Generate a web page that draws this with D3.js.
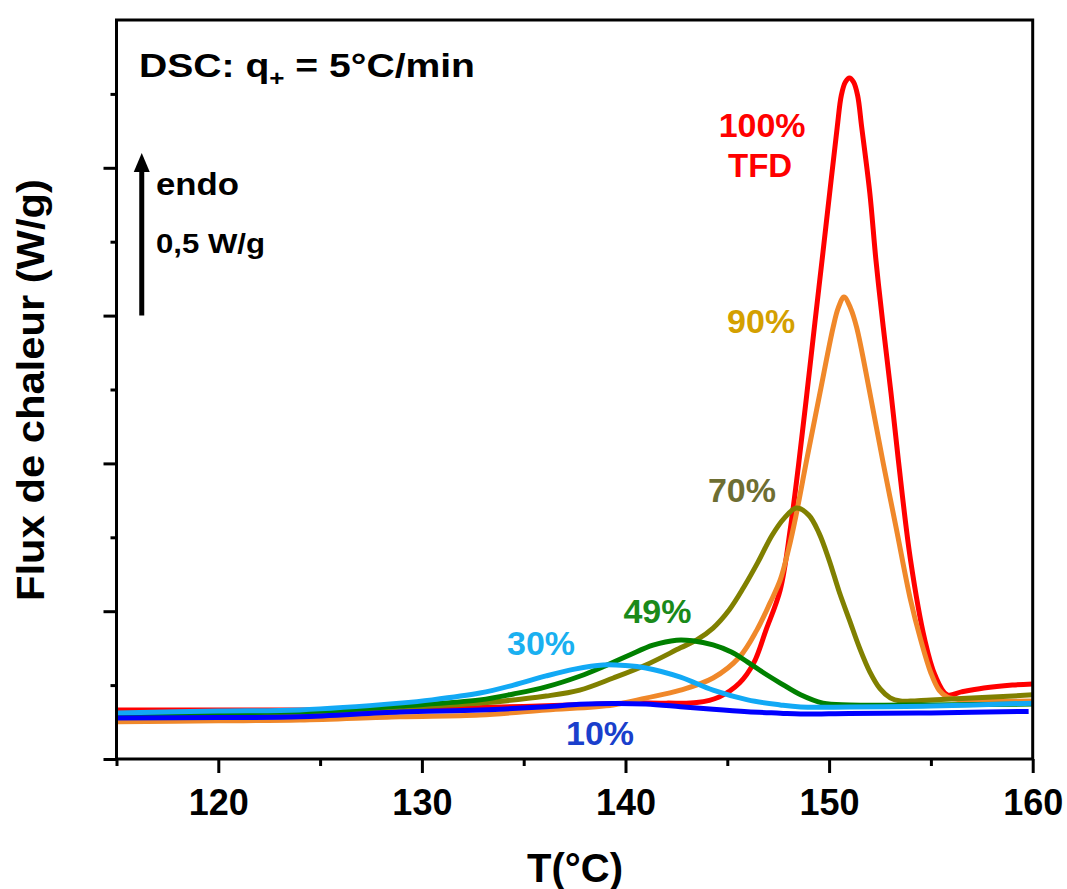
<!DOCTYPE html>
<html>
<head>
<meta charset="utf-8">
<script src="https://cdn.jsdelivr.net/npm/d3@7"></script>
<style>
  body { margin: 0; background: #fff; }
  text { font-family: "Liberation Sans", Arial, sans-serif; font-weight: bold; }
</style>
</head>
<body>
<svg id="chart" width="1067" height="889"></svg>
<script>
// ---------- data (T in °C, heat flow in W/g, arbitrary offset) ----------
const temp100 = [115,125,130,135,138,140,142,143.5,144.6,145.6,146.3,146.9,147.6,148.1,148.5,148.9,149.3,149.7,150.1,150.4,150.6,150.8,151.0,151.2,151.4,151.6,152.0,152.3,152.66,153.04,153.4,154.0,154.7,155.2,155.8,156.5,157.6,159,160];
const flux100 = [0.166,0.166,0.169,0.178,0.184,0.189,0.189,0.191,0.210,0.257,0.325,0.436,0.572,0.781,0.995,1.231,1.475,1.715,1.959,2.138,2.245,2.290,2.304,2.290,2.245,2.138,1.915,1.688,1.461,1.238,1.012,0.673,0.403,0.284,0.217,0.227,0.240,0.250,0.254];

const temp90 = [115,120,124,128.9,132.85,136.1,139.4,141,142.7,144.3,145.6,146.45,147.1,147.6,148.0,148.36,148.9,149.55,150.2,150.45,150.73,151.05,151.35,151.97,152.66,153.3,154.0,154.5,155.0,155.4,155.8,156.5,158,160];
const flux90 = [0.126,0.129,0.132,0.143,0.149,0.166,0.183,0.206,0.233,0.274,0.345,0.436,0.528,0.606,0.707,0.819,1.012,1.238,1.461,1.526,1.563,1.526,1.461,1.250,1.000,0.780,0.538,0.403,0.291,0.233,0.210,0.200,0.196,0.196];

const temp70 = [115,120,125,128.9,132.85,136.1,137.75,139.4,141,142.7,143.5,144.3,145.1,145.8,146.5,147.2,147.8,148.4,149.0,149.5,150.0,150.5,151.0,151.5,152.0,152.5,153.0,153.5,154.0,155,157,160];
const flux70 = [0.149,0.152,0.159,0.173,0.189,0.213,0.233,0.274,0.318,0.376,0.403,0.443,0.505,0.580,0.665,0.757,0.815,0.849,0.825,0.765,0.673,0.565,0.470,0.375,0.295,0.238,0.207,0.196,0.196,0.200,0.206,0.217];

const temp49 = [115,120,125,128.9,132.85,134.5,136.1,137.75,138.9,140.2,141.35,142.5,143.3,144.3,145.2,146,146.8,147.6,148.6,149.7,151,155,160];
const flux49 = [0.152,0.156,0.162,0.179,0.200,0.220,0.244,0.280,0.312,0.352,0.385,0.402,0.400,0.386,0.362,0.328,0.291,0.257,0.217,0.189,0.183,0.183,0.186];

const temp30 = [115,120,124,128.9,130.5,132.85,134.5,136.1,137.5,138.9,140,141,142.7,144.3,146,147.6,148.6,151,155,160];
const flux30 = [0.156,0.162,0.166,0.189,0.200,0.223,0.250,0.281,0.304,0.318,0.316,0.308,0.277,0.233,0.200,0.183,0.176,0.176,0.179,0.189];

const temp10 = [115,120,124,128.9,132.85,136.1,137.75,139.4,141,142.7,144.3,146,147.6,148.6,151,155,159.8];
const flux10 = [0.139,0.140,0.143,0.159,0.166,0.177,0.185,0.188,0.186,0.177,0.168,0.160,0.155,0.152,0.154,0.156,0.161];

const xTickValues = [120,130,140,150,160];
const xMinorTickValues = [115,125,135,145,155];
const yTickValues = [0,0.5,1,1.5,2];
const yMinorTickValues = [0.25,0.75,1.25,1.75,2.25];

const seriesNames = ["100%","90%","70%","49%","30%","10%"];
const lineColors = ["#ff0000","#f0882a","#808000","#008000","#12a9f5","#0000ff"];

// ---------- layout ----------
const svg = d3.select("#chart");
const plot = {left: 116.5, right: 1032.7, top: 20, bottom: 759};
const x = d3.scaleLinear().domain([115,160]).range([plot.left, plot.right]);
const y = d3.scaleLinear().domain([0,2.5]).range([plot.bottom, plot.top]);

const series = [
  {t: temp100, v: flux100}, {t: temp90, v: flux90}, {t: temp70, v: flux70},
  {t: temp49, v: flux49}, {t: temp30, v: flux30}, {t: temp10, v: flux10}
].map((s, i) => ({name: seriesNames[i], color: lineColors[i],
  pts: s.t.map((t, j) => ({t: t, v: s.v[j]}))}));

// ---------- axes ----------
const axisStroke = 3;
function styleAxis(g) {
  g.select(".domain").remove();
  g.selectAll(".tick line").attr("stroke", "#000").attr("stroke-width", axisStroke);
}

svg.append("g").attr("transform", `translate(0,${plot.bottom})`)
  .call(d3.axisBottom(x).tickValues(xTickValues).tickSize(14).tickPadding(16).tickFormat(d3.format("d")))
  .call(styleAxis)
  .call(g => g.selectAll("text").attr("fill", "#000").style("font-size", "36px")
      .style("font-family", "'Liberation Sans', Arial, sans-serif").style("font-weight", "bold"));

svg.append("g").attr("transform", `translate(0,${plot.bottom})`)
  .call(d3.axisBottom(x).tickValues(xMinorTickValues).tickSize(7).tickFormat(""))
  .call(styleAxis);

svg.append("g").attr("transform", `translate(${plot.left},0)`)
  .call(d3.axisLeft(y).tickValues(yTickValues).tickSize(13).tickFormat(""))
  .call(styleAxis);

svg.append("g").attr("transform", `translate(${plot.left},0)`)
  .call(d3.axisLeft(y).tickValues(yMinorTickValues).tickSize(6).tickFormat(""))
  .call(styleAxis);

// ---------- curves ----------
const line = d3.line().x(d => x(d.t)).y(d => y(d.v)).curve(d3.curveCatmullRom.alpha(0.5));
svg.append("g").selectAll("path").data(series).join("path")
  .attr("d", d => line(d.pts))
  .attr("fill", "none")
  .attr("stroke", d => d.color)
  .attr("stroke-width", 5)
  .attr("stroke-linejoin", "round");

// ---------- frame ----------
svg.append("rect")
  .attr("x", plot.left).attr("y", plot.top)
  .attr("width", plot.right - plot.left).attr("height", plot.bottom - plot.top)
  .attr("fill", "none").attr("stroke", "#000").attr("stroke-width", axisStroke);

// ---------- axis titles ----------
svg.append("text").attr("x", 575).attr("y", 882).attr("text-anchor", "middle")
  .style("font-size", "40px").attr("fill", "#000").text("T(°C)");

svg.append("text").attr("transform", "translate(44,390) rotate(-90)")
  .attr("text-anchor", "middle").style("font-size", "38px").attr("fill", "#000")
  .attr("textLength", 422).attr("lengthAdjust", "spacingAndGlyphs")
  .text("Flux de chaleur (W/g)");

// ---------- annotations ----------
const title = svg.append("text").attr("x", 139).attr("y", 77)
  .style("font-size", "33px").attr("fill", "#000")
  .attr("textLength", 336).attr("lengthAdjust", "spacingAndGlyphs");
title.append("tspan").text("DSC: q");
title.append("tspan").attr("dy", 9).style("font-size", "22px").text("+");
title.append("tspan").attr("dy", -9).text(" = 5°C/min");

// endo arrow (0.5 W/g scale bar)
const arrowT = 116.24, arrowFrom = 1.5, arrowTo = 2.05;
svg.append("line")
  .attr("x1", x(arrowT)).attr("x2", x(arrowT))
  .attr("y1", y(arrowFrom)).attr("y2", y(arrowTo) + 16)
  .attr("stroke", "#000").attr("stroke-width", 5);
svg.append("path")
  .attr("d", `M${x(arrowT)},${y(arrowTo)} L${x(arrowT) - 8},${y(arrowTo) + 19} L${x(arrowT) + 8},${y(arrowTo) + 19} Z`)
  .attr("fill", "#000");

svg.append("text").attr("x", 156).attr("y", 195).style("font-size", "32px")
  .attr("fill", "#000").attr("textLength", 83).attr("lengthAdjust", "spacingAndGlyphs").text("endo");
svg.append("text").attr("x", 156).attr("y", 253).style("font-size", "28px")
  .attr("fill", "#000").attr("textLength", 109).attr("lengthAdjust", "spacingAndGlyphs").text("0,5 W/g");

// curve labels (positioned in data coordinates)
const labels = [
  {text: "100%", t: 146.71, v: 2.105, color: "#ff0000", size: 34},
  {text: "TFD",  t: 146.61, v: 1.970, color: "#ff0000", size: 33},
  {text: "90%",  t: 146.66, v: 1.440, color: "#d4a000", size: 34},
  {text: "70%",  t: 145.72, v: 0.870, color: "#6e6e32", size: 34},
  {text: "49%",  t: 141.57, v: 0.459, color: "#1a8a1a", size: 34},
  {text: "30%",  t: 135.85, v: 0.352, color: "#1ab0f0", size: 34},
  {text: "10%",  t: 138.75, v: 0.047, color: "#1a3fcc", size: 34}
];
svg.append("g").selectAll("text").data(labels).join("text")
  .attr("x", d => x(d.t)).attr("y", d => y(d.v))
  .attr("text-anchor", "middle")
  .style("font-size", d => d.size + "px")
  .attr("fill", d => d.color)
  .text(d => d.text);
</script>
</body>
</html>
